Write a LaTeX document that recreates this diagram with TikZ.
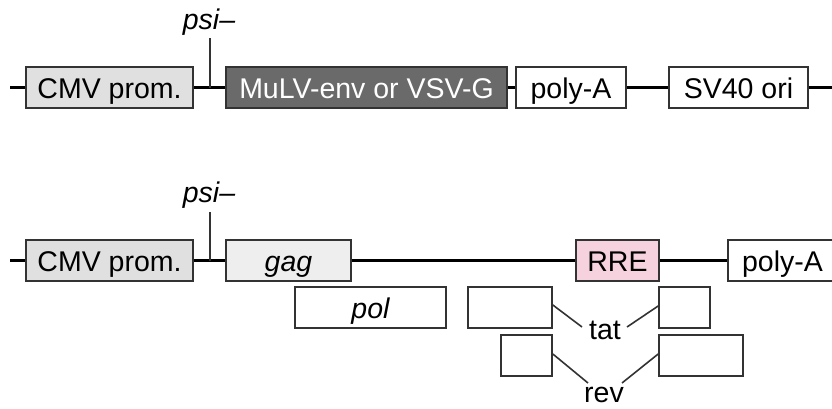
\documentclass[tikz,border=0pt]{standalone}
\usepackage{fontspec}
\setmainfont{Liberation Sans}
\definecolor{cmvgray}{HTML}{E0E0E0}
\definecolor{gaggray}{HTML}{EEEEEE}
\definecolor{envgray}{HTML}{6A6A6A}
\definecolor{rrepink}{HTML}{F6D2DE}
\definecolor{boxedge}{HTML}{333333}
\begin{document}
\begin{tikzpicture}[x=1pt,y=-1pt,
  every node/.style={font=\fontsize{28.5}{34}\selectfont},
  seg/.style={draw=boxedge,line width=1.7pt,rectangle,inner sep=0pt,minimum height=41pt,fill=white,text height=21pt,text depth=0pt},
  backbone/.style={line width=2.3pt,black},
  link/.style={line width=1.6pt,boxedge},
  tick/.style={line width=1.6pt,boxedge}]
\useasboundingbox (0,0) rectangle (832,408);
\clip (0,0) rectangle (832,408);
% ---- top construct ----
\node[seg,fill=cmvgray,minimum width=167pt] (cmvA) at (109.5,87.5) {CMV prom.};
\node[seg,fill=envgray,text=white,minimum width=281pt] (env) at (366.5,87.5) {MuLV-env or VSV-G};
\node[seg,minimum width=110pt] (pA1) at (571,87.5) {poly-A};
\node[seg,minimum width=139pt] (sv) at (738.5,87.5) {SV40 ori};
\coordinate (startA) at (10,87.5);
\coordinate (endA) at (832,87.5);
\draw[backbone] (startA) -- (cmvA.west);
\draw[backbone] (cmvA.east) -- (env.west);
\draw[backbone] (env.east) -- (pA1.west);
\draw[backbone] (pA1.east) -- (sv.west);
\draw[backbone] (sv.east) -- (endA);
\coordinate (psiA) at (210,87.5);
\node[anchor=base,inner sep=0pt] (psiAl) at (209,29) {\itshape psi–};
\draw[tick] (psiA) -- (210,38);
% ---- bottom construct ----
\node[seg,fill=cmvgray,minimum width=167pt] (cmvB) at (109.5,260.5) {CMV prom.};
\node[seg,fill=gaggray,minimum width=125pt] (gag) at (288.5,260.5) {\itshape gag};
\node[seg,fill=rrepink,minimum width=83pt] (rre) at (617.5,260.5) {RRE};
\node[seg,minimum width=109pt] (pA2) at (782.5,260.5) {poly-A};
\coordinate (startB) at (10,260.5);
\draw[backbone] (startB) -- (cmvB.west);
\draw[backbone] (cmvB.east) -- (gag.west);
\draw[backbone] (gag.east) -- (rre.west);
\draw[backbone] (rre.east) -- (pA2.west);
\coordinate (psiB) at (210,260.5);
\node[anchor=base,inner sep=0pt] (psiBl) at (209,202) {\itshape psi–};
\draw[tick] (psiB) -- (210,212);
% ---- lower reading frames ----
\node[seg,minimum width=151pt] (pol) at (370.5,307.5) {\itshape pol};
\node[seg,minimum width=84pt] (tat1) at (510,307.5) {};
\node[seg,minimum width=51pt] (tat2) at (684.5,307.5) {};
\node[seg,minimum width=51pt] (rev1) at (526.5,355.5) {};
\node[seg,minimum width=84pt] (rev2) at (701,355.5) {};
\node[anchor=base,inner sep=0pt] (tatl) at (605,339) {tat};
\node[anchor=base,inner sep=0pt] (revl) at (604,402) {rev};
\coordinate (tatL) at (582,327);
\coordinate (tatR) at (627,327);
\coordinate (revL) at (588,383);
\coordinate (revR) at (622,383);
\draw[link] ([yshift=2.5pt]tat1.east) -- (tatL);
\draw[link] (tatR) -- ([yshift=1.5pt]tat2.west);
\draw[link] ([yshift=1.5pt]rev1.east) -- (revL);
\draw[link] (revR) -- ([yshift=1.5pt]rev2.west);
\end{tikzpicture}
\end{document}
